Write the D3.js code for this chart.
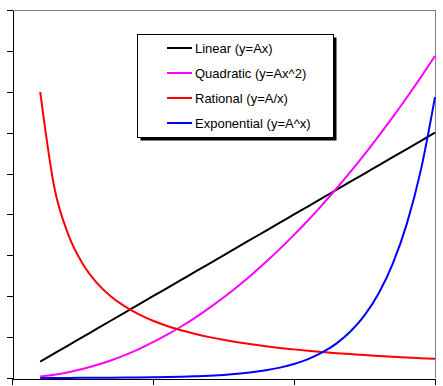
<!DOCTYPE html>
<html>
<head>
<meta charset="utf-8">
<script src="https://cdn.jsdelivr.net/npm/d3@7"></script>
<style>
    body { margin: 0; background: #fff; }
    svg { display: block; }
</style>
</head>
<body>
<div id="chart"></div>
<script>
// x values (step 0.5 from 1 to 15)
const xValues = [1, 1.5, 2, 2.5, 3, 3.5, 4, 4.5, 5, 5.5, 6, 6.5, 7, 7.5, 8, 8.5, 9, 9.5, 10, 10.5, 11, 11.5, 12, 12.5, 13, 13.5, 14, 14.5, 15];

// series values
const linearValues = [2, 3, 4, 5, 6, 7, 8, 9, 10, 11, 12, 13, 14, 15, 16, 17, 18, 19, 20, 21, 22, 23, 24, 25, 26, 27, 28, 29, 30];
const quadraticValues = [0.18, 0.39, 0.7, 1.09, 1.58, 2.14, 2.8, 3.54, 4.38, 5.29, 6.3, 7.39, 8.58, 9.84, 11.2, 12.64, 14.18, 15.79, 17.5, 19.29, 21.18, 23.14, 25.2, 27.34, 29.58, 31.89, 34.3, 36.79, 39.38];
const rationalValues = [35, 23.33, 17.5, 14, 11.67, 10, 8.75, 7.78, 7, 6.36, 5.83, 5.38, 5, 4.67, 4.38, 4.12, 3.89, 3.68, 3.5, 3.33, 3.18, 3.04, 2.92, 2.8, 2.69, 2.59, 2.5, 2.41, 2.36];
const exponentialValues = [0.008, 0.01, 0.014, 0.019, 0.025, 0.034, 0.046, 0.063, 0.085, 0.11, 0.15, 0.21, 0.28, 0.38, 0.51, 0.69, 0.94, 1.27, 1.71, 2.31, 3.12, 4.2, 5.68, 7.66, 10.34, 13.96, 18.85, 25.45, 34.35];

const seriesNames = ['Linear (y=Ax)', 'Quadratic (y=Ax^2)', 'Rational (y=A/x)', 'Exponential (y=A^x)'];
const seriesColors = ['#000000', '#ff00ff', '#ff0000', '#0000ff'];

// axis ticks (no labels are shown)
const xTicks = [0, 5, 10, 15];
const yTicks = [0, 5, 10, 15, 20, 25, 30, 35, 40, 45];

function drawChart() {
    const width = 443;
    const height = 386;
    const left = 12, right = 435, top = 10, bottom = 378;

    const svg = d3.select('#chart')
        .append('svg')
        .attr('width', width)
        .attr('height', height);

    const x = d3.scaleLinear().domain([0, 15]).range([left, right]);
    const y = d3.scaleLinear().domain([0, 45]).range([bottom, top]);

    // plot frame: grey top and right edge
    svg.append('path')
        .attr('d', `M${left},${top + 0.5}H${right + 0.5}V${bottom}`)
        .attr('fill', 'none')
        .attr('stroke', '#808080')
        .attr('stroke-width', 1)
        .attr('shape-rendering', 'crispEdges');

    // axes
    const yAxis = svg.append('g')
        .attr('transform', `translate(${left + 0.5},0)`)
        .call(d3.axisLeft(y).tickValues(yTicks).tickSize(6).tickSizeOuter(0).tickFormat(''));
    const xAxis = svg.append('g')
        .attr('transform', `translate(0,${bottom + 0.5})`)
        .call(d3.axisBottom(x).tickValues(xTicks).tickSize(6).tickSizeOuter(0).tickFormat(''));
    [yAxis, xAxis].forEach(a => {
        a.selectAll('path, line')
            .attr('stroke', '#000')
            .attr('stroke-width', 1)
            .attr('shape-rendering', 'crispEdges');
    });

    // series lines
    const allSeries = [linearValues, quadraticValues, rationalValues, exponentialValues];
    const line = d3.line()
        .x((d, i) => x(xValues[i]))
        .y(d => y(d))
        .curve(d3.curveMonotoneX);

    allSeries.forEach((values, i) => {
        svg.append('path')
            .datum(values)
            .attr('fill', 'none')
            .attr('stroke', seriesColors[i])
            .attr('stroke-width', 2)
            .attr('d', line);
    });

    // legend with drop shadow
    const lx = 137.5, ly = 34.5, lw = 196, lh = 103;
    svg.append('rect')
        .attr('x', lx + 3).attr('y', ly + 3)
        .attr('width', lw).attr('height', lh)
        .attr('fill', '#000');
    svg.append('rect')
        .attr('x', lx).attr('y', ly)
        .attr('width', lw).attr('height', lh)
        .attr('fill', '#fff')
        .attr('stroke', '#000')
        .attr('stroke-width', 1);

    const legend = svg.selectAll('.legend-item')
        .data(seriesNames)
        .enter().append('g')
        .attr('class', 'legend-item')
        .attr('transform', (d, i) => `translate(0,${48 + i * 25})`);

    legend.append('line')
        .attr('x1', 167).attr('x2', 192)
        .attr('y1', 0).attr('y2', 0)
        .attr('stroke', (d, i) => seriesColors[i])
        .attr('stroke-width', 2);

    legend.append('text')
        .attr('x', 195)
        .attr('y', 4.5)
        .attr('font-family', 'Arial, "Liberation Sans", sans-serif')
        .attr('font-size', '13px')
        .attr('fill', '#000')
        .text(d => d);
}

drawChart();
</script>
</body>
</html>
